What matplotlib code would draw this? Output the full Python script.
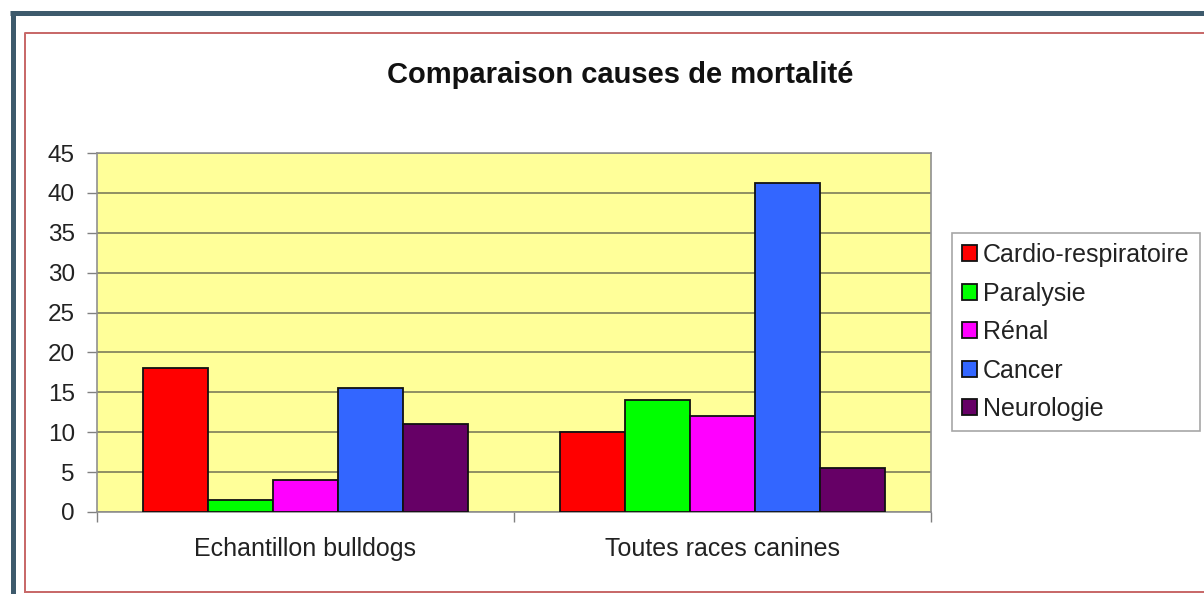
import matplotlib
matplotlib.use("Agg")
import matplotlib.pyplot as plt
import numpy as np
from matplotlib.lines import Line2D

plt.rcParams['font.family'] = ['Liberation Sans', 'DejaVu Sans']

categories = ["Echantillon bulldogs", "Toutes races canines"]
series_names = ["Cardio-respiratoire", "Paralysie", "Rénal", "Cancer", "Neurologie"]
cardio = [18.0, 10.0]
paralysie = [1.5, 14.0]
renal = [4.0, 12.0]
cancer = [15.5, 41.3]
neuro = [11.0, 5.5]
colors = ["#ff0000", "#00ff00", "#ff00ff", "#3366ff", "#660066"]
yticks = [0, 5, 10, 15, 20, 25, 30, 35, 40, 45]
title = "Comparaison causes de mortalité"

W, H = 1204, 594
fig = plt.figure(figsize=(W / 100, H / 100), dpi=100)
fig.patch.set_facecolor("white")

def px(x, y):
    return x / W, 1 - y / H

# outer dark frame (cropped at right and bottom)
fig.add_artist(Line2D([12.5 / W, 12.5 / W], [1 - 12.5 / H, -0.1], transform=fig.transFigure,
                      color="#3d5a6c", lw=5 * 0.72, solid_capstyle="butt"))
fig.add_artist(Line2D([10 / W, 1.1], [1 - 12.5 / H, 1 - 12.5 / H], transform=fig.transFigure,
                      color="#3d5a6c", lw=5 * 0.72, solid_capstyle="butt"))
# red inner frame
fig.add_artist(Line2D([25 / W, 25 / W, 1.1], [1 - 592 / H, 1 - 33 / H, 1 - 33 / H],
                      transform=fig.transFigure, color="#c86a6a", lw=2 * 0.72))
fig.add_artist(Line2D([25 / W, 1.1], [1 - 592 / H, 1 - 592 / H],
                      transform=fig.transFigure, color="#c86a6a", lw=2 * 0.72))

left, right, top, bottom = 97, 931, 153, 512
ax = fig.add_axes([left / W, 1 - bottom / H, (right - left) / W, (bottom - top) / H])
ax.set_facecolor("#ffff99")

series = [cardio, paralysie, renal, cancer, neuro]
x = np.arange(len(categories))
bw = 0.156
for i, (name, vals) in enumerate(zip(series_names, series)):
    ax.bar(x + (i - 2) * bw, vals, width=bw, color=colors[i], edgecolor="#111111",
           linewidth=1.3, label=name, zorder=3)

ax.set_xlim(-0.5, 1.5)
ax.set_ylim(0, 45)
ax.set_yticks(yticks)
ax.set_yticklabels([str(v) for v in yticks])
ax.yaxis.grid(True, color="#7d7d5a", lw=1.2, zorder=1)
ax.set_axisbelow(True)

ax.set_xticks([-0.5, 0.5, 1.5])
ax.set_xticklabels(["", "", ""])
ax.set_xticks(x, minor=True)
ax.set_xticklabels(categories, minor=True)
ax.tick_params(axis="x", which="major", length=7, color="#808080", width=1)
ax.tick_params(axis="x", which="minor", length=0, pad=18, labelsize=18, labelcolor="#222222")
ax.tick_params(axis="y", length=7, color="#808080", width=1, pad=9, labelsize=17.5,
               labelcolor="#222222")
for s in ax.spines.values():
    s.set_color("#909090")
    s.set_linewidth(1.2)

fig.text(620 / W, 1 - 75 / H, title, ha="center", va="center", fontsize=21,
         fontweight="bold", color="#111111")

leg = ax.legend(loc="upper left", bbox_to_anchor=px(952, 233), bbox_transform=fig.transFigure,
                borderaxespad=0, frameon=True, fancybox=False, fontsize=18,
                handlelength=0.6, handleheight=0.6, handletextpad=0.25,
                labelspacing=0.58, borderpad=0.4, labelcolor="#222222")
leg.get_frame().set_edgecolor("#909090")
leg.get_frame().set_linewidth(1.2)

fig.savefig("out.png", dpi=100)
